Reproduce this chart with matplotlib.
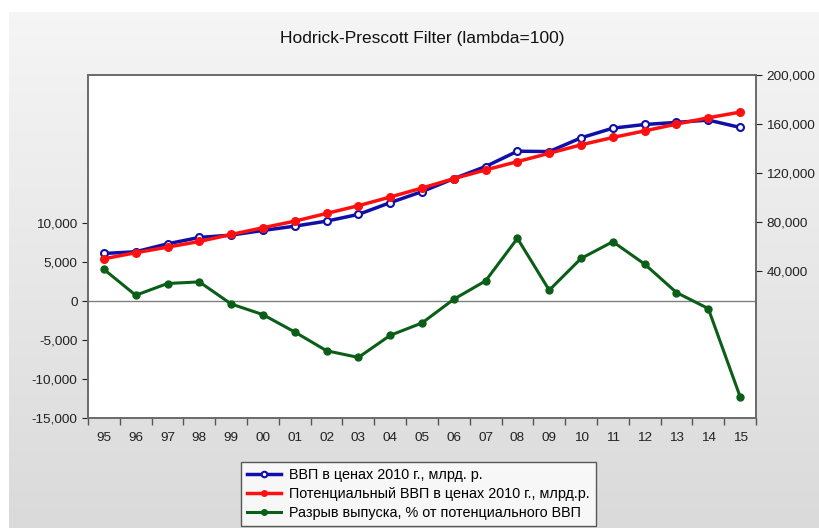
import matplotlib
matplotlib.use("Agg")
import matplotlib.pyplot as plt
import numpy as np
from matplotlib.ticker import FuncFormatter, FixedLocator

years = ["95","96","97","98","99","00","01","02","03","04","05",
         "06","07","08","09","10","11","12","13","14","15"]
gdp = [54300, 55700, 62200, 67400, 69300, 73100, 76600, 80700, 86200, 95800,
       104800, 115400, 125300, 137800, 137500, 148700, 156600, 159600, 161300, 163200, 157200]
potential = [50000, 54900, 59500, 64100, 69800, 75300, 80700, 87000, 93300, 100400,
             107700, 115400, 122500, 129300, 136100, 143000, 149000, 154400, 159900, 165100, 169700]
gap = [4100, 770, 2280, 2490, -350, -1720, -3950, -6360, -7220, -4380,
       -2790, 260, 2620, 8080, 1420, 5500, 7650, 4770, 1120, -940, -12250]

left_ticks = [-15000, -10000, -5000, 0, 5000, 10000]
right_ticks = [40000, 80000, 120000, 160000, 200000]

labels = ["ВВП в ценах 2010 г., млрд. р.",
          "Потенциальный ВВП в ценах 2010 г., млрд.р.",
          "Разрыв выпуска, % от потенциального ВВП"]

plt.rcParams['font.family'] = ['Liberation Sans', 'DejaVu Sans']

fig = plt.figure(figsize=(8.19, 5.28), dpi=100)
fig.patch.set_facecolor('white')

# gradient background panel
bg = fig.add_axes([9/819, 0, 1 - 9/819, 1 - 12/528], zorder=-10)
grad = np.linspace(0.962, 0.855, 256).reshape(-1, 1)
bg.imshow(np.dstack([grad, grad, grad]), aspect='auto', extent=[0, 1, 0, 1])
bg.set_axis_off()

ax = fig.add_axes([88/819, 1-418/528, (756-88)/819, (418-75)/528])
ax.set_facecolor('white')
ax2 = ax.twinx()

x = np.arange(len(years))
fmt = FuncFormatter(lambda v, p: f"{int(v):,}")

lg, = ax.plot(x, gap, color='#0b5e17', lw=2.2, marker='o', ms=5,
              mfc='#0b5e17', mec='#0b5e17', label=labels[2])
ax.axhline(0, color='#808080', lw=1, zorder=1)
lb, = ax2.plot(x, gdp, color='#1010a8', lw=2.5, marker='o', ms=5,
               mfc='white', mec='#1010a8', mew=1.5, label=labels[0])
lr, = ax2.plot(x, potential, color='#ff1010', lw=2.5, marker='o', ms=5.5,
               mfc='#ff1010', mec='#ff1010', label=labels[1])

ax.set_xlim(-0.5, len(years) - 0.5)
ax.set_ylim(-15000, 29070)
ax2.set_ylim(-80000, 200000)

ax.yaxis.set_major_locator(FixedLocator(left_ticks))
ax.yaxis.set_major_formatter(fmt)
ax2.yaxis.set_major_locator(FixedLocator(right_ticks))
ax2.yaxis.set_major_formatter(fmt)

ax.set_xticks(x)
ax.set_xticklabels(years)
ax.set_xticks(np.arange(-0.5, len(years)), minor=True)
ax.tick_params(axis='x', which='major', length=0, labelsize=9.7, pad=10, colors='#222222')
ax.tick_params(axis='x', which='minor', length=5, width=1, color='#555555', direction='out')
ax.tick_params(axis='y', length=4, labelsize=9.7, colors='#222222')
ax2.tick_params(axis='y', length=4, labelsize=9.7, colors='#222222')

for a in (ax, ax2):
    for s in a.spines.values():
        s.set_color('#6a6a6a')
        s.set_linewidth(1.2)

fig.text(422/819, 1-38/528, "Hodrick-Prescott Filter (lambda=100)", ha='center', va='center',
         fontsize=12.5, color='#111111')

leg = fig.legend(handles=[lb, lr, lg], loc='upper left',
                 bbox_to_anchor=(241/819, 1-462/528), fontsize=10.4,
                 frameon=True, fancybox=False, edgecolor='#333333',
                 handlelength=2.4, handletextpad=0.55, borderpad=0.4,
                 borderaxespad=0, labelspacing=0.35)
leg.get_frame().set_linewidth(1)
for h in leg.legend_handles:
    h.set_markersize(4)

fig.savefig("out.png", dpi=100, facecolor=fig.get_facecolor())
